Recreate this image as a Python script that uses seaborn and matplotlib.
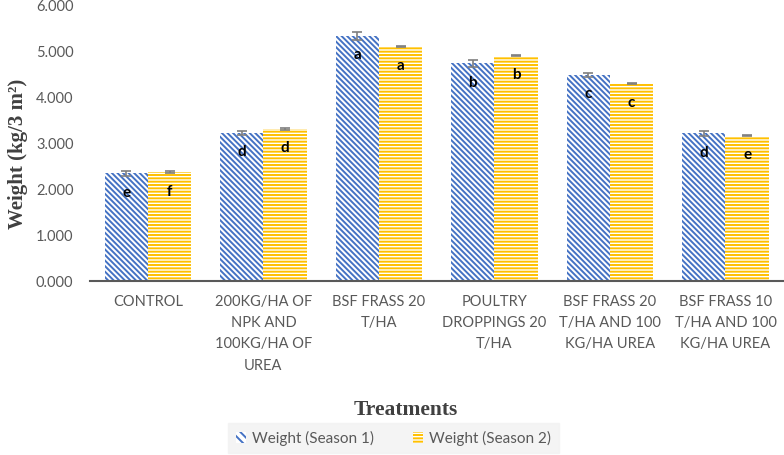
import pandas as pd
import numpy as np
import matplotlib
matplotlib.use('Agg')
import matplotlib.pyplot as plt
import seaborn as sns
from matplotlib.patches import Patch

treatments = ['CONTROL', '200KG/HA OF\nNPK AND\n100KG/HA OF\nUREA', 'BSF FRASS 20\nT/HA',
              'POULTRY\nDROPPINGS 20\nT/HA', 'BSF FRASS 20\nT/HA AND 100\nKG/HA UREA',
              'BSF FRASS 10\nT/HA AND 100\nKG/HA UREA']
season1 = [2.34, 3.22, 5.33, 4.73, 4.48, 3.21]
season2 = [2.37, 3.31, 5.09, 4.90, 4.29, 3.16]
err1 = [0.06, 0.04, 0.09, 0.08, 0.04, 0.06]
err2 = [0.02, 0.02, 0.01, 0.01, 0.01, 0.01]
letters1 = ['e', 'd', 'a', 'b', 'c', 'd']
letters2 = ['f', 'd', 'a', 'b', 'c', 'e']
series = ['Weight (Season 1)', 'Weight (Season 2)']

df = pd.DataFrame({
    'Treatment': treatments * 2,
    'Weight': season1 + season2,
    'Series': [series[0]] * 6 + [series[1]] * 6,
})

sns.set_style('white')
plt.rcParams['font.family'] = ['Lato', 'DejaVu Sans']
plt.rcParams['hatch.linewidth'] = 1.4

blue = '#4472C4'
gold = '#FFC000'
grey = '#595959'

fig = plt.figure(figsize=(7.84, 4.55), dpi=100)
ax = fig.add_axes([0.115, 0.382, 0.884, 0.607])

sns.barplot(data=df, x='Treatment', y='Weight', hue='Series', order=treatments,
            hue_order=series, palette=[blue, gold], width=0.75, ax=ax, legend=False)

cols = [blue, gold]
hatches = ['\\\\\\\\\\\\', '-----']
errs = [err1, err2]
labs = [letters1, letters2]
bar_conts = list(ax.containers)
for i, cont in enumerate(bar_conts):
    for j, bar in enumerate(cont):
        bar.set_facecolor('white')
        bar.set_edgecolor(cols[i])
        bar.set_hatch(hatches[i])
        bar.set_linewidth(0)
        cx = bar.get_x() + bar.get_width() / 2
        h = bar.get_height()
        ax.errorbar(cx, h, yerr=errs[i][j], color='#7F7F7F', capsize=3.5, elinewidth=1.2,
                    capthick=1.2, zorder=5)
        ax.annotate(labs[i][j], (cx, h), xytext=(0, -14), textcoords='offset points',
                    ha='center', va='center', fontsize=11, fontweight='bold', color='black')

ax.set_ylim(0, 6)
ax.set_yticks(np.arange(0, 7, 1))
ax.set_yticklabels([f'{v:.3f}' for v in range(7)])
ax.set_xlim(-0.5, 5.5)
ax.tick_params(axis='both', colors=grey, labelsize=10.5, length=0)
ax.tick_params(axis='x', pad=10)
ax.tick_params(axis='y', pad=12)
for t in ax.get_xticklabels():
    t.set_linespacing(1.65)
for s in ['top', 'right', 'left']:
    ax.spines[s].set_visible(False)
ax.spines['bottom'].set_color(grey)
ax.spines['bottom'].set_linewidth(1.5)

ax.set_xlabel('')
ax.set_ylabel('Weight (kg/3 m²)', family='Liberation Serif', fontsize=15,
              fontweight='bold', color='#404040')
ax.yaxis.set_label_coords(-0.09, 0.46)
fig.text(0.517, 0.098, 'Treatments', family='Liberation Serif', fontsize=15.5,
         fontweight='bold', color='#404040', ha='center', va='center')

handles = [Patch(facecolor='white', edgecolor=blue, hatch='\\\\\\\\', linewidth=0, label=series[0]),
           Patch(facecolor='white', edgecolor=gold, hatch='-----', linewidth=0, label=series[1])]
leg = fig.legend(handles=handles, loc='center', bbox_to_anchor=(0.502, 0.037), ncol=2,
                 frameon=True, fontsize=11, handlelength=0.7, handleheight=0.7,
                 columnspacing=2.5, handletextpad=0.4, borderpad=0.5, fancybox=False,
                 borderaxespad=0)
leg.get_frame().set_facecolor('#F2F2F2')
leg.get_frame().set_edgecolor('#F2F2F2')
for t in leg.get_texts():
    t.set_color(grey)

fig.savefig('out.png', dpi=100)
